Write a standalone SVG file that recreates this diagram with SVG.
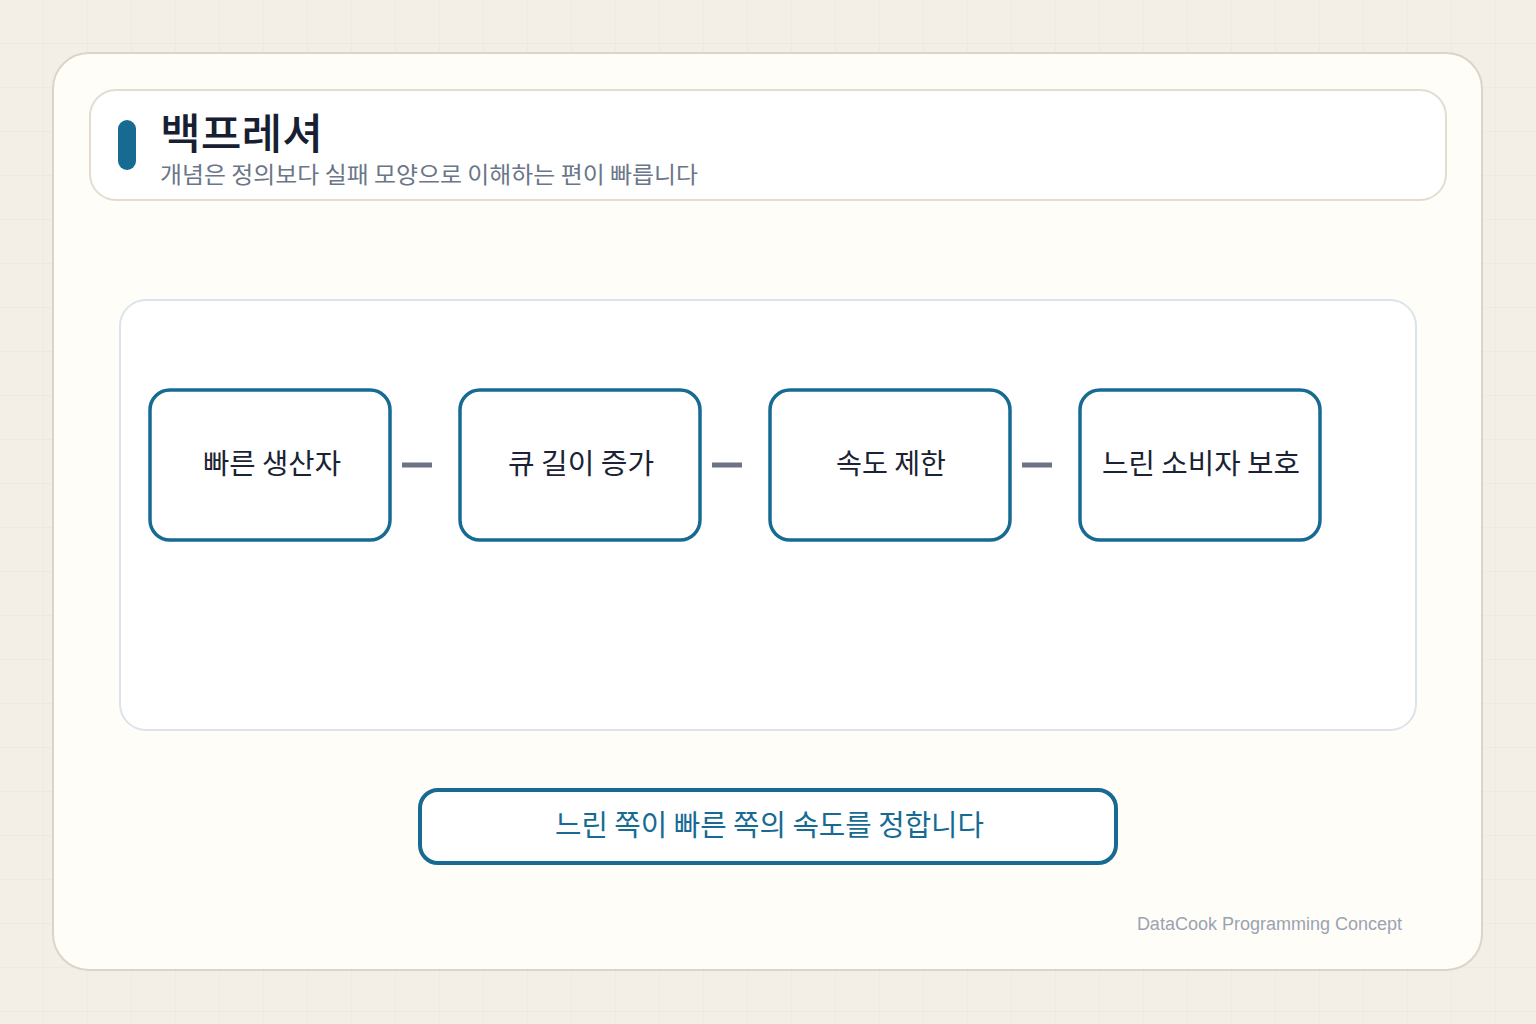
<svg xmlns="http://www.w3.org/2000/svg" width="1536" height="1024" viewBox="0 0 1536 1024">
  <defs>
    <pattern id="grid" width="44" height="44" patternUnits="userSpaceOnUse">
      <path d="M44 0V44M0 44H44" fill="none" stroke="#ebe5d9" stroke-width="1"/>
    </pattern>
    <style>
      .kr { font-family: "Noto Sans CJK KR", "Noto Sans", sans-serif; }
      .node rect { fill: #ffffff; stroke: #176b93; stroke-width: 3.5; }
      .node text { font-size: 28px; fill: #1a2233; text-anchor: middle; }
      .conn line { stroke: #6b7385; stroke-width: 5; }
    </style>
  </defs>
  <rect x="0" y="0" width="1536" height="1024" fill="#f3efe7"/>
  <rect x="0" y="0" width="1536" height="1024" fill="url(#grid)"/>
  <rect x="53" y="53" width="1429" height="917" rx="36" fill="#fffdf8" stroke="#ddd4c6" stroke-width="2"/>
  <g id="header">
    <rect x="90" y="90" width="1356" height="110" rx="26" fill="#ffffff" stroke="#e4dccf" stroke-width="2"/>
    <rect x="118" y="120" width="18" height="50" rx="9" fill="#176b93"/>
    <text x="160" y="149" class="kr" font-size="42" font-weight="500" fill="#172033" textLength="163" lengthAdjust="spacingAndGlyphs">백프레셔</text>
    <text x="160" y="183" class="kr" font-size="23" fill="#6b7688" textLength="538" lengthAdjust="spacingAndGlyphs">개념은 정의보다 실패 모양으로 이해하는 편이 빠릅니다</text>
  </g>
  <rect id="panel" x="120" y="300" width="1296" height="430" rx="26" fill="#ffffff" stroke="#dde3ec" stroke-width="2"/>
  <g id="connectors" class="conn">
    <line x1="402" y1="465" x2="432" y2="465"/>
    <line x1="712" y1="465" x2="742" y2="465"/>
    <line x1="1022" y1="465" x2="1052" y2="465"/>
  </g>
  <g id="node1" class="node kr">
    <rect x="150" y="390" width="240" height="150" rx="20"/>
    <text x="272" y="474" textLength="138" lengthAdjust="spacingAndGlyphs">빠른 생산자</text>
  </g>
  <g id="node2" class="node kr">
    <rect x="460" y="390" width="240" height="150" rx="20"/>
    <text x="581" y="474" textLength="146" lengthAdjust="spacingAndGlyphs">큐 길이 증가</text>
  </g>
  <g id="node3" class="node kr">
    <rect x="770" y="390" width="240" height="150" rx="20"/>
    <text x="891" y="474" textLength="110" lengthAdjust="spacingAndGlyphs">속도 제한</text>
  </g>
  <g id="node4" class="node kr">
    <rect x="1080" y="390" width="240" height="150" rx="20"/>
    <text x="1201" y="474" textLength="198" lengthAdjust="spacingAndGlyphs">느린 소비자 보호</text>
  </g>
  <g id="summary">
    <rect x="420" y="790" width="696" height="73" rx="18" fill="#ffffff" stroke="#176b93" stroke-width="4"/>
    <text x="769.5" y="836" class="kr" font-size="29" fill="#176b93" text-anchor="middle" textLength="429" lengthAdjust="spacingAndGlyphs">느린 쪽이 빠른 쪽의 속도를 정합니다</text>
  </g>
  <text x="1402" y="930" font-family="Liberation Sans, Arial, sans-serif" font-size="18" fill="#9aa3b3" text-anchor="end">DataCook Programming Concept</text>
</svg>
